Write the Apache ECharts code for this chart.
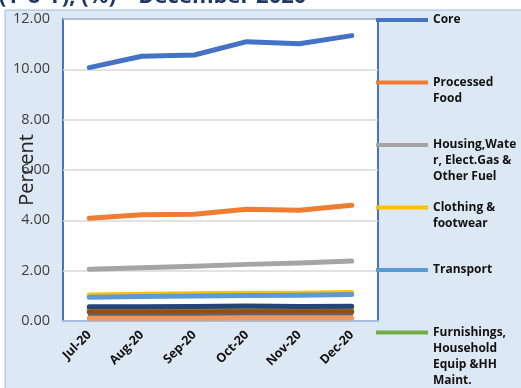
<!DOCTYPE html>
<html>
<head>
<meta charset="utf-8">
<script src="https://cdn.jsdelivr.net/npm/echarts@6/dist/echarts.min.js"></script>
<style>
  html, body { margin: 0; padding: 0; background: #ffffff; }
  #chart { width: 521px; height: 388px; }
</style>
</head>
<body>
<div id="chart"></div>
<script>
// Monthly categories
const months = ['Jul-20', 'Aug-20', 'Sep-20', 'Oct-20', 'Nov-20', 'Dec-20'];

// Y-o-Y contributions (percent)
const core          = [10.07, 10.52, 10.57, 11.10, 11.02, 11.34];
const processedFood = [4.08, 4.22, 4.24, 4.44, 4.40, 4.60];
const housing       = [2.06, 2.12, 2.18, 2.25, 2.30, 2.38];
const clothing      = [1.03, 1.06, 1.08, 1.10, 1.10, 1.13];
const transport     = [0.94, 0.97, 0.99, 1.01, 1.02, 1.05];
const furnishings   = [0.45, 0.45, 0.45, 0.46, 0.46, 0.46];
const groupG        = [0.57, 0.57, 0.58, 0.60, 0.58, 0.59];
const groupH        = [0.36, 0.36, 0.36, 0.37, 0.37, 0.37];
const groupI        = [0.26, 0.26, 0.26, 0.27, 0.27, 0.27];
const groupJ        = [0.11, 0.11, 0.11, 0.12, 0.12, 0.12];

// Y axis tick values
const yTicks = [0, 2, 4, 6, 8, 10, 12];

// Legend entries (label text as printed)
const legendLabels = [
  'Core',
  'Processed\nFood',
  'Housing,Wate\nr, Elect.Gas &\nOther Fuel',
  'Clothing &\nfootwear',
  'Transport',
  'Furnishings,\nHousehold\nEquip &HH\nMaint.'
];

const colors = {
  core: '#4472c4', processed: '#ed7d31', housing: '#a5a5a5', clothing: '#ffc000',
  transport: '#5b9bd5', furnishings: '#70ad47', g: '#264478', h: '#9e480e',
  i: '#636363', j: '#f1975a'
};
const legendColors = [colors.core, colors.processed, colors.housing, colors.clothing, colors.transport, colors.furnishings];

const FONT = '"Open Sans", "DejaVu Sans", sans-serif';

function lineSeries(name, data, color, width) {
  return {
    name: name,
    type: 'line',
    data: data,
    showSymbol: false,
    symbol: 'none',
    lineStyle: { color: color, width: width, cap: 'round', join: 'round' },
    itemStyle: { color: color },
    z: 3
  };
}

const chart = echarts.init(document.getElementById('chart'), null, { renderer: 'canvas' });

// Legend drawn as graphic items so each swatch sits on its label's first line
const legendGraphics = [];
legendLabels.forEach(function (label, k) {
  const cy = 20 + k * 62.5;
  legendGraphics.push({
    type: 'line',
    shape: { x1: 376, y1: cy, x2: 428, y2: cy },
    style: { stroke: legendColors[k], lineWidth: 4 },
    z: 10
  });
  legendGraphics.push({
    type: 'text',
    x: 433,
    y: cy - 8,
    style: {
      text: label,
      fill: '#111111',
      font: 'bold 12px ' + FONT,
      lineHeight: 16,
      verticalAlign: 'top'
    },
    z: 10
  });
});

const option = {
  backgroundColor: '#ffffff',
  animation: false,
  graphic: [
    {
      type: 'rect',
      shape: { x: 5, y: 10, width: 520, height: 380 },
      style: { fill: '#dde8f5', stroke: '#9dbde3', lineWidth: 1 },
      z: -10
    },
    {
      type: 'text',
      x: -1,
      y: 8,
      style: {
        text: '(Y-o-Y), (%) \u2013 December 2020',
        fill: '#1f3864',
        font: 'bold 22px ' + FONT,
        verticalAlign: 'bottom'
      },
      z: -5
    }
  ].concat(legendGraphics),
  grid: {
    left: 63, top: 19, right: 143, bottom: 67,
    show: true,
    backgroundColor: '#ffffff',
    borderColor: '#4472c4',
    borderWidth: 2
  },
  xAxis: {
    type: 'category',
    data: months,
    boundaryGap: true,
    axisLine: { show: true, lineStyle: { color: '#a9bde0', width: 2 } },
    axisTick: { show: false },
    axisLabel: {
      rotate: 45,
      margin: 12,
      color: '#111111',
      fontFamily: FONT,
      fontWeight: 'bold',
      fontSize: 12.5
    }
  },
  yAxis: {
    type: 'value',
    min: yTicks[0],
    max: yTicks[yTicks.length - 1],
    interval: 2,
    name: 'Percent',
    nameLocation: 'middle',
    nameRotate: 90,
    nameGap: 26,
    nameMoveOverlap: false,
    nameTextStyle: { color: '#222222', fontSize: 20, fontFamily: FONT },
    axisLine: { show: false },
    axisTick: { show: false },
    splitLine: { show: true, lineStyle: { color: '#d9d9d9', width: 1.5 } },
    axisLabel: {
      margin: 13,
      color: '#404040',
      fontFamily: FONT,
      fontSize: 14.5,
      formatter: function (v) { return v.toFixed(2); }
    }
  },
  series: [
    lineSeries('Core', core, colors.core, 5),
    lineSeries('Processed Food', processedFood, colors.processed, 5),
    lineSeries('Housing,Water, Elect.Gas & Other Fuel', housing, colors.housing, 5),
    lineSeries('Clothing & footwear', clothing, colors.clothing, 5),
    lineSeries('Transport', transport, colors.transport, 5),
    lineSeries('Furnishings, Household Equip &HH Maint.', furnishings, colors.furnishings, 5),
    lineSeries('', groupG, colors.g, 5),
    lineSeries('', groupH, colors.h, 5),
    lineSeries('', groupI, colors.i, 3),
    lineSeries('', groupJ, colors.j, 5)
  ]
};

chart.setOption(option);
</script>
</body>
</html>
